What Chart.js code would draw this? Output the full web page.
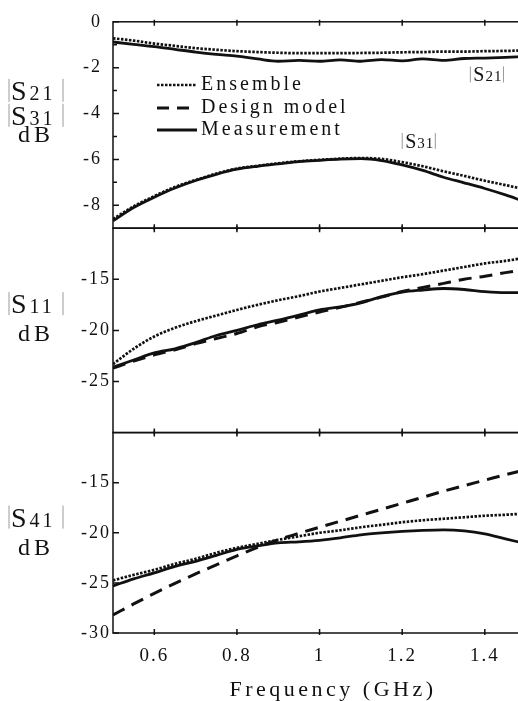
<!DOCTYPE html>
<html>
<head>
<meta charset="utf-8">
<script src="https://cdn.jsdelivr.net/npm/chart.js@4.4.1/dist/chart.umd.min.js"></script>
<style>
  html, body { margin: 0; padding: 0; background: #fff; overflow: hidden; }
  canvas { display: block; }
</style>
</head>
<body>
<canvas id="grafico" width="522" height="701"></canvas>
<script>
// frecuencias (GHz)
const freq = [0.5, 0.55, 0.6, 0.65, 0.7, 0.75, 0.8, 0.85, 0.9, 0.95, 1.0, 1.05, 1.1, 1.15, 1.2, 1.25, 1.3, 1.35, 1.4, 1.45, 1.49];

// |S21| y |S31| (dB)
const s21Ensemble = [-0.72, -0.82, -0.95, -1.05, -1.15, -1.22, -1.28, -1.32, -1.35, -1.37, -1.37, -1.37, -1.36, -1.35, -1.33, -1.32, -1.3, -1.3, -1.28, -1.27, -1.25];
const s21Medida = [-0.88, -0.98, -1.08, -1.2, -1.32, -1.42, -1.5, -1.62, -1.72, -1.68, -1.72, -1.66, -1.72, -1.65, -1.7, -1.62, -1.68, -1.6, -1.58, -1.55, -1.52];
const s31Ensemble = [-8.6, -8.05, -7.6, -7.2, -6.9, -6.62, -6.4, -6.28, -6.17, -6.08, -6.02, -5.97, -5.94, -5.98, -6.12, -6.3, -6.52, -6.72, -6.93, -7.12, -7.28];
const s31Medida = [-8.68, -8.1, -7.65, -7.25, -6.92, -6.65, -6.43, -6.3, -6.2, -6.1, -6.04, -5.99, -5.97, -6.05, -6.24, -6.48, -6.78, -7.02, -7.27, -7.55, -7.8];

// |S11| (dB)
const s11Ensemble = [-23.3, -21.8, -20.6, -19.75, -19.1, -18.55, -18.0, -17.5, -17.05, -16.65, -16.2, -15.85, -15.5, -15.15, -14.8, -14.5, -14.15, -13.8, -13.45, -13.2, -12.95];
const s11Diseno = [-23.7, -23.0, -22.4, -21.9, -21.3, -20.8, -20.3, -19.65, -19.2, -18.7, -18.2, -17.75, -17.25, -16.75, -16.2, -15.8, -15.4, -15.0, -14.7, -14.35, -14.1];
const s11Medida = [-23.6, -22.9, -22.2, -21.8, -21.2, -20.5, -20.0, -19.45, -19.0, -18.5, -18.0, -17.7, -17.3, -16.7, -16.25, -16.05, -15.9, -16.0, -16.2, -16.3, -16.3];

// |S41| (dB)
const s41Ensemble = [-24.75, -24.2, -23.7, -23.1, -22.6, -22.0, -21.5, -21.1, -20.7, -20.35, -20.0, -19.75, -19.45, -19.2, -18.95, -18.75, -18.6, -18.45, -18.3, -18.2, -18.1];
const s41Diseno = [-28.2, -27.1, -26.05, -25.05, -24.1, -23.2, -22.3, -21.45, -20.7, -20.05, -19.45, -18.85, -18.25, -17.65, -17.05, -16.45, -15.85, -15.3, -14.75, -14.2, -13.8];
const s41Medida = [-25.3, -24.6, -24.0, -23.35, -22.85, -22.25, -21.65, -21.3, -21.0, -20.9, -20.75, -20.5, -20.2, -20.0, -19.85, -19.75, -19.7, -19.8, -20.1, -20.6, -21.0];

// ticks
const xTicks = [0.6, 0.8, 1, 1.2, 1.4];
const ticksA = [0, -2, -4, -6, -8];
const menoresA = [-1, -3, -5, -7];
const ticksB = [-15, -20, -25];
const ticksC = [-15, -20, -25, -30];

const leyenda = ['Ensemble', 'Design model', 'Measurement'];
const tituloX = 'Frequency (GHz)';

const FUENTE = '"Liberation Serif", "Times New Roman", serif';
const NEGRO = '#111';

const estilos = {
  ensemble: { borderColor: NEGRO, borderWidth: 2.7, borderDash: [2.5, 1.5] },
  diseno: { borderColor: NEGRO, borderWidth: 3, borderDash: [13, 8] },
  medida: { borderColor: NEGRO, borderWidth: 2.8 }
};

function serie(label, valores, eje, estilo) {
  return Object.assign({
    label: label,
    data: freq.map((f, i) => ({ x: f, y: valores[i] })),
    xAxisID: 'x',
    yAxisID: eje,
    pointRadius: 0,
    fill: false,
    cubicInterpolationMode: 'monotone'
  }, estilo);
}

function ejeY(min, max, ticks, peso, pad) {
  return {
    type: 'linear', position: 'left', stack: 'paneles', stackWeight: peso,
    min: min, max: max,
    grid: { display: false, drawTicks: false }, border: { display: false },
    afterBuildTicks: s => { s.ticks = ticks.map(v => ({ value: v })); },
    afterFit: s => { s.width = 113; },
    ticks: { font: { family: FUENTE, size: 18 }, color: NEGRO, padding: pad, callback: v => String(v) }
  };
}

// dibuja S con subindice
function textoSub(ctx, x, y, letra, sub, tam, tamSub) {
  ctx.font = tam + 'px ' + FUENTE;
  ctx.fillText(letra, x, y);
  const w = ctx.measureText(letra).width;
  ctx.font = tamSub + 'px ' + FUENTE;
  ctx.fillText(sub, x + w, y);
  return x + w + ctx.measureText(sub).width;
}

function barra(ctx, x, y1, y2) {
  ctx.save();
  ctx.strokeStyle = '#9a9a9a';
  ctx.lineWidth = 1;
  ctx.beginPath();
  ctx.moveTo(x, y1);
  ctx.lineTo(x, y2);
  ctx.stroke();
  ctx.restore();
}

const paneles = [
  { id: 'yA', mayores: ticksA, menores: menoresA, filas: [['S', '21'], ['S', '31'], ['dB']], bases: [78, 103, 120] },
  { id: 'yB', mayores: ticksB, menores: [], filas: [['S', '11'], ['dB']], bases: [85, 113] },
  { id: 'yC', mayores: ticksC, menores: [], filas: [['S', '41'], ['dB']], bases: [94, 122] }
];

const marco = {
  id: 'marco',
  beforeDraw(chart) { chart.ctx.letterSpacing = '2px'; },
  afterDraw(chart) {
    const { ctx, chartArea: a, scales } = chart;
    const sx = scales.x;
    ctx.save();
    ctx.strokeStyle = NEGRO;
    ctx.lineWidth = 1.5;
    paneles.forEach(p => {
      const s = scales[p.id];
      ctx.strokeRect(a.left, s.top, a.right - a.left, s.bottom - s.top);
      ctx.beginPath();
      p.mayores.forEach(v => { const y = s.getPixelForValue(v); ctx.moveTo(a.left, y); ctx.lineTo(a.left + 6, y); });
      p.menores.forEach(v => { const y = s.getPixelForValue(v); ctx.moveTo(a.left, y); ctx.lineTo(a.left + 4, y); });
      xTicks.forEach(v => {
        const px = sx.getPixelForValue(v);
        ctx.moveTo(px, s.top - 2); ctx.lineTo(px, s.top + 4);
        ctx.moveTo(px, s.bottom + 2); ctx.lineTo(px, s.bottom - 4);
      });
      ctx.stroke();

      // etiquetas del eje
      ctx.fillStyle = NEGRO;
      ctx.textAlign = 'left';
      ctx.textBaseline = 'alphabetic';
      p.filas.forEach((fila, i) => {
        const base = s.top + p.bases[i];
        if (fila.length === 2) {
          ctx.letterSpacing = '3px';
          textoSub(ctx, 11, base, fila[0], fila[1], 28, 20);
          barra(ctx, 9, base - 21, base + 2);
          barra(ctx, 63, base - 21, base + 2);
        } else {
          ctx.letterSpacing = '4px';
          ctx.font = '24px ' + FUENTE;
          ctx.fillText(fila[0], 18, base);
        }
      });
    });

    // leyenda
    const filasLey = [85, 108, 130];
    const tipos = [estilos.ensemble, estilos.diseno, estilos.medida];
    leyenda.forEach((txt, i) => {
      const y = filasLey[i];
      const st = tipos[i];
      ctx.save();
      ctx.lineWidth = st.borderWidth;
      ctx.setLineDash(i === 1 ? [12, 8] : (st.borderDash || []));
      ctx.beginPath();
      ctx.moveTo(157, y);
      ctx.lineTo(197, y);
      ctx.stroke();
      ctx.restore();
      ctx.letterSpacing = '3px';
      ctx.font = '20px ' + FUENTE;
      ctx.textBaseline = 'middle';
      ctx.fillText(txt, 201, y);
    });

    // notas |S21| y |S31|
    const sa = scales.yA;
    ctx.textBaseline = 'alphabetic';
    ctx.letterSpacing = '1px';
    [['21', 1.365, -2.6], ['31', 1.2, -5.5]].forEach(n => {
      const x0 = sx.getPixelForValue(n[1]);
      const y0 = sa.getPixelForValue(n[2]);
      const fin = textoSub(ctx, x0 + 3, y0, 'S', n[0], 20, 15);
      barra(ctx, x0, y0 - 15, y0 + 1);
      barra(ctx, fin + 1, y0 - 15, y0 + 1);
    });

    // titulo eje x
    ctx.letterSpacing = '3.5px';
    ctx.font = '22px ' + FUENTE;
    ctx.textAlign = 'center';
    ctx.fillText(tituloX, 333, 696);
    ctx.restore();
  }
};

new Chart(document.getElementById('grafico').getContext('2d'), {
  type: 'line',
  data: {
    datasets: [
      serie('Ensemble', s21Ensemble, 'yA', estilos.ensemble),
      serie('Measurement', s21Medida, 'yA', estilos.medida),
      serie('Ensemble', s31Ensemble, 'yA', estilos.ensemble),
      serie('Measurement', s31Medida, 'yA', estilos.medida),
      serie('Ensemble', s11Ensemble, 'yB', estilos.ensemble),
      serie('Design model', s11Diseno, 'yB', estilos.diseno),
      serie('Measurement', s11Medida, 'yB', estilos.medida),
      serie('Ensemble', s41Ensemble, 'yC', estilos.ensemble),
      serie('Design model', s41Diseno, 'yC', estilos.diseno),
      serie('Measurement', s41Medida, 'yC', estilos.medida)
    ]
  },
  options: {
    responsive: false,
    animation: false,
    events: [],
    layout: { padding: { top: 17, left: 0, right: 0, bottom: 0 } },
    plugins: { legend: { display: false }, tooltip: { enabled: false } },
    scales: {
      x: {
        type: 'linear', min: 0.5, max: 1.49,
        grid: { display: false, drawTicks: false }, border: { display: false },
        afterBuildTicks: s => { s.ticks = xTicks.map(v => ({ value: v })); },
        afterFit: s => { s.height = 68; },
        ticks: { font: { family: FUENTE, size: 19 }, color: NEGRO, padding: 12, maxRotation: 0, autoSkip: false, callback: v => String(v) }
      },
      yC: ejeY(-30, -10, ticksC, 202, 2),
      yB: ejeY(-30, -10, ticksB, 206, 2),
      yA: ejeY(-9, 0, ticksA, 208, 11)
    }
  },
  plugins: [marco]
});
</script>
</body>
</html>
